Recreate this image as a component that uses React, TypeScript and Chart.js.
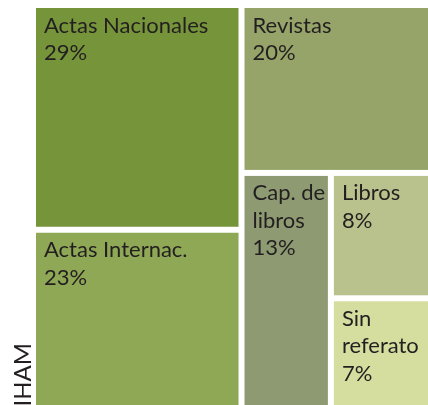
import React, { useEffect, useRef } from "react";
import { Chart, registerables } from "chart.js";

Chart.register(...registerables);

// ---- data ----
const categories = [
  "Actas Nacionales",
  "Actas Internac.",
  "Revistas",
  "Cap. de libros",
  "Libros",
  "Sin referato",
];
const shares = [29, 23, 20, 13, 8, 7];
const colors = ["#76943a", "#8fa856", "#96a469", "#8e9a71", "#b9c28c", "#d5de9e"];
const sideLabel = "IHAM";

// nesting of the treemap (indices into the arrays above), alternating split direction
const structure: any = [[0, 1], [2, [3, [4, 5]]]];

// ---- presentation ----
const W = 428;
const H = 405;
const GAP = 6;
const FONT = "Lato, 'Open Sans', sans-serif";
const FONT_SIZE = 22;
const LINE_H = 27.5;
const PAD_X = 8;
const FIRST_BASE = 24.5;

type Rect = { x0: number; y0: number; x1: number; y1: number };

function nodeSize(n: any): number {
  return typeof n === "number" ? shares[n] : n.reduce((s: number, c: any) => s + nodeSize(c), 0);
}

function layout(n: any, r: Rect, horizontal: boolean, out: Rect[]) {
  if (typeof n === "number") {
    out[n] = r;
    return;
  }
  const total = nodeSize(n);
  let acc = 0;
  n.forEach((c: any) => {
    const s = nodeSize(c);
    const a = acc / total;
    const b = (acc + s) / total;
    acc += s;
    const cr = horizontal
      ? { x0: r.x0 + (r.x1 - r.x0) * a, x1: r.x0 + (r.x1 - r.x0) * b, y0: r.y0, y1: r.y1 }
      : { y0: r.y0 + (r.y1 - r.y0) * a, y1: r.y0 + (r.y1 - r.y0) * b, x0: r.x0, x1: r.x1 };
    layout(c, cr, !horizontal, out);
  });
}

function wrap(ctx: CanvasRenderingContext2D, text: string, maxW: number): string[] {
  const words = text.split(" ");
  const lines: string[] = [];
  let cur = "";
  words.forEach((w) => {
    const t = cur ? cur + " " + w : w;
    if (cur && ctx.measureText(t).width > maxW) {
      lines.push(cur);
      cur = w;
    } else cur = t;
  });
  if (cur) lines.push(cur);
  return lines;
}

const treemapPlugin = {
  id: "treemapCells",
  afterDatasetsDraw(chart: any) {
    const { ctx, scales } = chart;
    const xs = scales.x;
    const ys = scales.y;
    const rects: Rect[] = [];
    layout(structure, { x0: 0, y0: 0, x1: 100, y1: 100 }, true, rects);
    ctx.save();
    rects.forEach((r, i) => {
      const px0 = xs.getPixelForValue(r.x0) + GAP / 2;
      const px1 = xs.getPixelForValue(r.x1) - GAP / 2;
      const py0 = ys.getPixelForValue(r.y0) + GAP / 2;
      const py1 = ys.getPixelForValue(r.y1) - GAP / 2;
      ctx.fillStyle = colors[i];
      ctx.fillRect(px0, py0, px1 - px0, py1 - py0);
      ctx.fillStyle = "#231f20";
      ctx.font = `${FONT_SIZE}px ${FONT}`;
      ctx.textAlign = "left";
      ctx.textBaseline = "alphabetic";
      const lines = wrap(ctx, categories[i], px1 - px0 - PAD_X - 2);
      lines.push(shares[i] + "%");
      lines.forEach((ln, k) => {
        ctx.fillText(ln, px0 + PAD_X, py0 + FIRST_BASE + k * LINE_H);
      });
    });
    // side label (cropped axis title)
    ctx.translate(31, 343);
    ctx.rotate(-Math.PI / 2);
    ctx.font = `24px ${FONT}`;
    ctx.fillStyle = "#231f20";
    ctx.textAlign = "right";
    ctx.fillText(sideLabel, 0, 0);
    ctx.restore();
  },
};

export default function App() {
  const ref = useRef<HTMLCanvasElement | null>(null);
  useEffect(() => {
    if (!ref.current) return;
    const chart = new Chart(ref.current, {
      type: "scatter",
      data: { datasets: [{ data: [] }] },
      options: {
        animation: false,
        responsive: false,
        devicePixelRatio: 1,
        layout: { padding: 0 },
        plugins: { legend: { display: false }, tooltip: { enabled: false } },
        scales: {
          x: { type: "linear", display: false, min: -8.229, max: 98.504 },
          y: { type: "linear", display: false, reverse: true, min: -1.241, max: 99.256 },
        },
      },
      plugins: [treemapPlugin],
    });
    return () => chart.destroy();
  }, []);
  return (
    <div style={{ position: "absolute", left: 0, top: 0, width: W, height: H, background: "#fff" }}>
      <canvas ref={ref} width={W} height={H} style={{ display: "block" }} />
    </div>
  );
}
